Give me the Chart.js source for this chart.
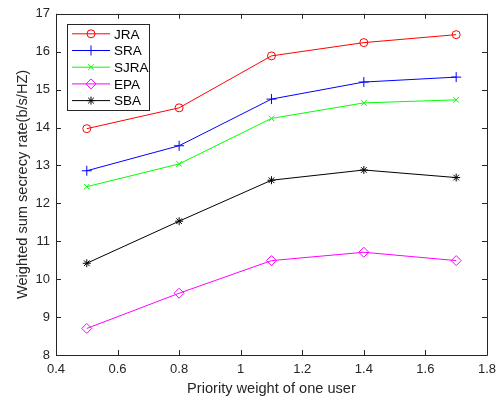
<!DOCTYPE html>
<html lang="en">
  <head>
    <meta charset="UTF-8">
    <title>Weighted sum secrecy rate</title>
    <script src="https://cdn.jsdelivr.net/npm/chart.js"></script>
    <style>
      html, body { margin: 0; padding: 0; background: #fff; }
      #wrap { width: 503px; height: 399px; position: relative; }
    </style>
  </head>
  <body>
    <div id="wrap"><canvas id="rateChart"></canvas></div>
    <script>
      // values
      var weights = [0.5, 0.8, 1.1, 1.4, 1.7];
      var jra  = [13.97, 14.52, 15.89, 16.24, 16.45];
      var sra  = [12.86, 13.52, 14.75, 15.20, 15.33];
      var sjra = [12.44, 13.04, 14.24, 14.65, 14.73];
      var epa  = [8.70, 9.63, 10.49, 10.71, 10.49];
      var sba  = [10.42, 11.53, 12.61, 12.88, 12.68];
      var xTicks = [0.4, 0.6, 0.8, 1, 1.2, 1.4, 1.6, 1.8];
      var yTicks = [8, 9, 10, 11, 12, 13, 14, 15, 16, 17];

      var axisColor = '#262626';
      var fontFamily = '"Liberation Sans", Arial, Helvetica, sans-serif';

      function pts(ys) {
        return weights.map(function(x, i) { return { x: x, y: ys[i] }; });
      }

      function series(label, ys, color, style, radius) {
        return {
          label: label,
          data: pts(ys),
          borderColor: color,
          backgroundColor: style === 'star' ? color : 'rgba(0,0,0,0)',
          borderWidth: 1,
          pointStyle: style,
          pointRadius: radius,
          pointBorderWidth: 1,
          pointHoverRadius: radius,
          tension: 0,
          fill: false
        };
      }

      // MATLAB-like box with inward ticks plus the legend inside the axes
      var matlabAxes = {
        id: 'matlabAxes',
        afterDraw: function(chart) {
          var ctx = chart.ctx;
          var a = chart.chartArea;
          var xs = chart.scales.x, ys = chart.scales.y;
          ctx.save();
          ctx.strokeStyle = axisColor;
          ctx.lineWidth = 1;
          ctx.beginPath();
          ctx.rect(Math.round(a.left) + 0.5, Math.round(a.top) + 0.5,
                   Math.round(a.right - a.left), Math.round(a.bottom - a.top));
          ctx.stroke();
          var len = 5;
          ctx.beginPath();
          xTicks.forEach(function(v) {
            var px = Math.round(xs.getPixelForValue(v)) + 0.5;
            ctx.moveTo(px, a.bottom); ctx.lineTo(px, a.bottom - len);
            ctx.moveTo(px, a.top); ctx.lineTo(px, a.top + len);
          });
          yTicks.forEach(function(v) {
            var py = Math.round(ys.getPixelForValue(v)) + 0.5;
            ctx.moveTo(a.left, py); ctx.lineTo(a.left + len, py);
            ctx.moveTo(a.right, py); ctx.lineTo(a.right - len, py);
          });
          ctx.stroke();

          // legend
          var lx = a.left + 11, ly = a.top + 10, lw = 82, lh = 86, rowH = 16.7;
          ctx.fillStyle = '#fff';
          ctx.fillRect(lx, ly, lw, lh);
          ctx.strokeStyle = axisColor;
          ctx.strokeRect(Math.round(lx) + 0.5, Math.round(ly) + 0.5, lw, lh);
          ctx.font = '13.5px ' + fontFamily;
          ctx.textBaseline = 'middle';
          chart.data.datasets.forEach(function(ds, i) {
            var yy = ly + 10 + i * rowH;
            ctx.strokeStyle = ds.borderColor;
            ctx.lineWidth = 1;
            ctx.beginPath();
            ctx.moveTo(lx + 5, yy); ctx.lineTo(lx + 43, yy);
            ctx.stroke();
            ctx.fillStyle = ds.backgroundColor;
            Chart.helpers.drawPoint(ctx, {
              pointStyle: ds.pointStyle,
              radius: ds.pointRadius,
              borderWidth: 1,
              rotation: 0
            }, lx + 24, yy);
            ctx.fillStyle = '#000';
            ctx.fillText(ds.label, lx + 47, yy + 1);
          });
          ctx.restore();
        }
      };

      var ctx = document.getElementById('rateChart').getContext('2d');
      new Chart(ctx, {
        type: 'line',
        data: {
          datasets: [
            series('JRA', jra, '#ff0000', 'circle', 4),
            series('SRA', sra, '#0000ff', 'cross', 5),
            series('SJRA', sjra, '#00ff00', 'crossRot', 4),
            series('EPA', epa, '#ff00ff', 'rectRot', 5),
            series('SBA', sba, '#000000', 'star', 4)
          ]
        },
        options: {
          responsive: true,
          maintainAspectRatio: false,
          animation: false,
          events: [],
          layout: { padding: { left: 14, top: 13, right: 13, bottom: 0 } },
          plugins: {
            legend: { display: false },
            tooltip: { enabled: false }
          },
          scales: {
            x: {
              type: 'linear',
              min: 0.4,
              max: 1.8,
              afterBuildTicks: function(scale) {
                scale.ticks = xTicks.map(function(v) { return { value: v }; });
              },
              afterFit: function(scale) { scale.height = 44; },
              grid: { display: false, drawTicks: false },
              border: { display: false },
              ticks: {
                color: axisColor,
                padding: 7,
                maxRotation: 0,
                font: { size: 13, family: fontFamily },
                callback: function(v) { return String(Math.round(v * 10) / 10); }
              },
              title: {
                display: true,
                text: 'Priority weight of one user',
                color: axisColor,
                padding: { top: 0, bottom: 1 },
                font: { size: 14.6, family: fontFamily }
              }
            },
            y: {
              type: 'linear',
              min: 8,
              max: 17,
              afterBuildTicks: function(scale) {
                scale.ticks = yTicks.map(function(v) { return { value: v }; });
              },
              afterFit: function(scale) { scale.width = 42; },
              grid: { display: false, drawTicks: false },
              border: { display: false },
              ticks: {
                color: axisColor,
                padding: 6,
                font: { size: 13, family: fontFamily }
              },
              title: {
                display: true,
                text: 'Weighted sum secrecy rate(b/s/HZ)',
                color: axisColor,
                padding: { top: 0, bottom: 0 },
                font: { size: 14.6, family: fontFamily }
              }
            }
          }
        },
        plugins: [matlabAxes]
      });
    </script>
  </body>
</html>
